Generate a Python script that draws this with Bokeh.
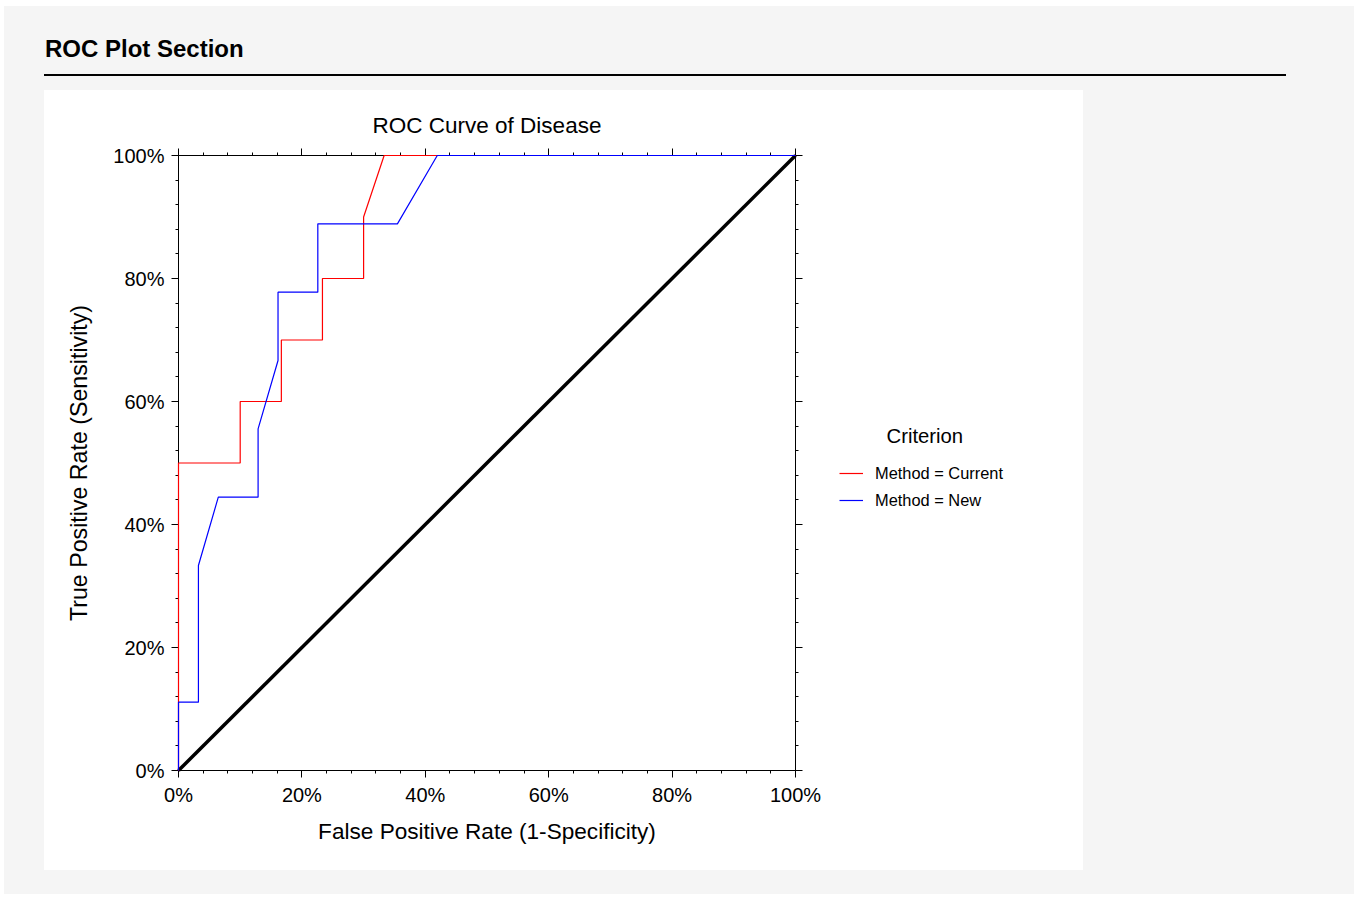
from bokeh.plotting import figure
from bokeh.models import (Range1d, LinearAxis, FixedTicker, NumeralTickFormatter,
                          Legend, LegendItem, Label, Div, Spacer)
from bokeh.layouts import column, row
from bokeh.embed import file_html
from bokeh.resources import INLINE

# ---- data ----
fpr_current = [0.0, 0.0, 0.10, 0.10, 0.1667, 0.1667, 0.2333, 0.2333, 0.30, 0.30, 0.3333, 1.0]
tpr_current = [0.0, 0.50, 0.50, 0.60, 0.60, 0.70, 0.70, 0.80, 0.80, 0.90, 1.0, 1.0]

fpr_new = [0.0, 0.0, 0.0323, 0.0323, 0.0645, 0.1290, 0.1290, 0.1613, 0.1613,
           0.2258, 0.2258, 0.3548, 0.4194, 1.0]
tpr_new = [0.0, 0.1111, 0.1111, 0.3333, 0.4444, 0.4444, 0.5556, 0.6667, 0.7778,
           0.7778, 0.8889, 0.8889, 1.0, 1.0]

diag_x = [0.0, 1.0]
diag_y = [0.0, 1.0]

series_labels = ["Method = Current", "Method = New"]
series_colors = ["#ff0000", "#0000ff"]
legend_title = "Criterion"
major_ticks = [0.0, 0.2, 0.4, 0.6, 0.8, 1.0]
minor_ticks = [round(i * 0.04, 2) for i in range(26)]

FONT = "Liberation Sans"

# ---------------- main ROC plot ----------------
p = figure(width=781, height=780,
           x_range=Range1d(0, 1), y_range=Range1d(0, 1),
           output_backend="svg", toolbar_location=None,
           min_border_left=134, min_border_right=30,
           min_border_top=65, min_border_bottom=100,
           x_axis_label="False Positive Rate (1-Specificity)",
           y_axis_label="True Positive Rate (Sensitivity)",
           title="ROC Curve of Disease",
           margin=(0, 0, 0, 0))
p.outline_line_color = None
p.background_fill_color = "white"
p.border_fill_color = "white"
p.xgrid.visible = False
p.ygrid.visible = False

p.title.align = "center"
p.title.text_font = FONT
p.title.text_font_size = "22.5px"
p.title.text_font_style = "normal"
p.title.text_color = "black"
p.title.standoff = 22

p.add_layout(LinearAxis(), "above")
p.add_layout(LinearAxis(), "right")

for ax in p.axis:
    ax.ticker = FixedTicker(ticks=major_ticks, minor_ticks=minor_ticks)
    ax.formatter = NumeralTickFormatter(format="0%")
    ax.axis_line_color = "black"
    ax.axis_line_width = 1
    ax.major_tick_line_color = "black"
    ax.minor_tick_line_color = "black"
    ax.major_tick_in = 0
    ax.major_tick_out = 7
    ax.minor_tick_in = 0
    ax.minor_tick_out = 3
    ax.major_label_text_font = FONT
    ax.major_label_text_font_size = "20px"
    ax.major_label_text_color = "black"
    ax.axis_label_text_font = FONT
    ax.axis_label_text_font_style = "normal"
    ax.axis_label_text_color = "black"

for ax in (p.above[0], p.right[0]):
    ax.major_label_text_font_size = "1px"
    ax.major_label_text_color = None
    ax.major_label_standoff = 0

xb = p.below[0]
xb.major_label_standoff = 6
xb.axis_label_standoff = 10
xb.axis_label_text_font_size = "22.6px"
yl = p.left[0]
yl.major_label_standoff = 7
yl.axis_label_standoff = 18
yl.axis_label_text_font_size = "23.2px"

r_diag = p.line(diag_x, diag_y, line_color="black", line_width=3.5)
r_cur = p.line(fpr_current, tpr_current, line_color=series_colors[0], line_width=1.2)
r_new = p.line(fpr_new, tpr_new, line_color=series_colors[1], line_width=1.2)
for r in (r_diag, r_cur, r_new):
    r.level = "overlay"

# ---------------- legend panel (right side of the white box) ----------------
q = figure(width=258, height=780,
           x_range=Range1d(10, 11), y_range=Range1d(10, 11),
           x_axis_type=None, y_axis_type=None,
           output_backend="svg", toolbar_location=None,
           min_border=0, margin=(0, 0, 0, 0))
q.outline_line_color = None
q.background_fill_color = "white"
q.border_fill_color = "white"
q.xgrid.visible = False
q.ygrid.visible = False

# same series (outside this panel's view) so the legend keys use their styles
q_cur = q.line(fpr_current, tpr_current, line_color=series_colors[0], line_width=1.2)
q_new = q.line(fpr_new, tpr_new, line_color=series_colors[1], line_width=1.2)

legend = Legend(items=[LegendItem(label=series_labels[0], renderers=[q_cur]),
                       LegendItem(label=series_labels[1], renderers=[q_new])],
                location=(14, 260), padding=0, margin=0,
                border_line_color=None, background_fill_alpha=0,
                glyph_width=24, glyph_height=20, label_height=20,
                label_standoff=12, spacing=7,
                label_text_font=FONT, label_text_font_size="16.4px",
                label_text_color="black")
q.add_layout(legend)

q.add_layout(Label(x=61, y=335, x_units="screen", y_units="screen",
                   text=legend_title, text_align="left", text_baseline="middle",
                   text_font=FONT, text_font_size="20.3px", text_color="black"))

header = Div(text=(
    '<div style="position:relative;width:1290px;height:82px;">'
    '<div style="position:absolute;left:41px;top:31px;font-family:\'Liberation Sans\',Arial,sans-serif;'
    'font-weight:bold;font-size:24px;line-height:24px;color:black;white-space:nowrap;">ROC Plot Section</div>'
    '<div style="position:absolute;left:40px;top:68px;width:1242px;height:2px;background:black;"></div>'
    '</div>'), width=1290, height=82, margin=(0, 0, 0, 0))

panel = row(p, q, width=1039, height=780, margin=(2, 0, 0, 40),
            styles={"background-color": "white"})

layout = column(header, panel, Spacer(width=10, height=24), width=1350,
                margin=(6, 0, 0, 4), styles={"background-color": "#f5f5f5"})

open("out.html", "w").write(file_html(layout, INLINE))
